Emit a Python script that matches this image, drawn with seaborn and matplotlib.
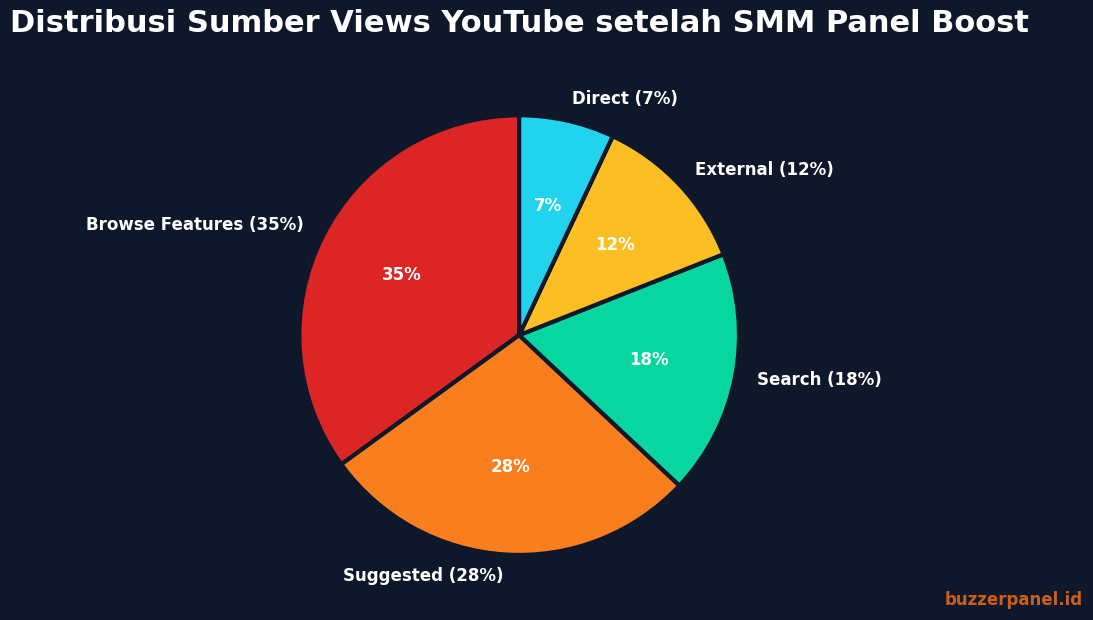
import matplotlib.pyplot as plt
import seaborn as sns

sources = ['Browse Features', 'Suggested', 'Search', 'External', 'Direct']
shares = [35, 28, 18, 12, 7]
colors = ['#dc2626', '#f97f1e', '#08d6a0', '#fbbf24', '#22d3ee']

bg = '#0f172a'
sns.set_theme(style='dark')
plt.rcParams['font.family'] = ['DejaVu Sans']

fig = plt.figure(figsize=(10.93, 6.2), dpi=100, facecolor=bg)
ax = fig.add_axes([0.2335, 0.034, 0.483, 0.851])
ax.set_facecolor(bg)

labels = [f'{s} ({v}%)' for s, v in zip(sources, shares)]
wedges, texts, autotexts = ax.pie(
    shares, labels=labels, colors=colors, startangle=90, counterclock=True,
    autopct='%1.0f%%', pctdistance=0.6, labeldistance=1.1,
    wedgeprops=dict(edgecolor=bg, linewidth=3),
    textprops=dict(color='white', fontsize=12, fontweight='bold'))
ax.set_xlim(-1.2, 1.2)
ax.set_ylim(-1.2, 1.2)
ax.set_aspect('equal')
ax.axis('off')

fig.text(0.009, 0.962, 'Distribusi Sumber Views YouTube setelah SMM Panel Boost',
         color='white', fontsize=22, fontweight='bold', ha='left', va='center')
fig.text(0.991, 0.032, 'buzzerpanel.id', color='#f97316', alpha=0.8, fontsize=12,
         fontweight='bold', ha='right', va='center')

fig.savefig('out.png', dpi=100, facecolor=bg)
